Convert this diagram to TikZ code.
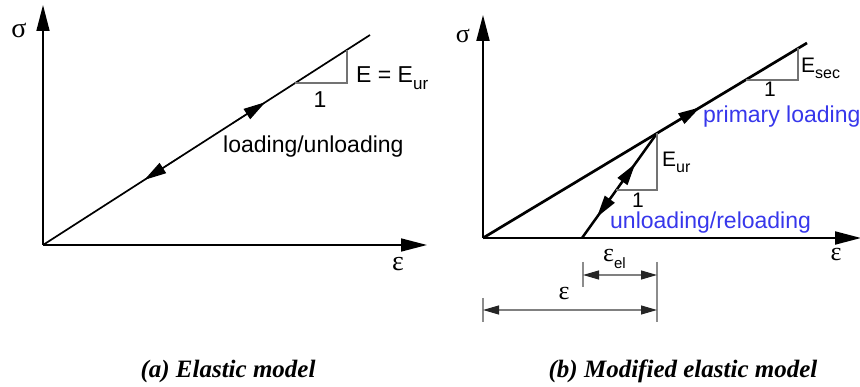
\documentclass[tikz,border=0pt]{standalone}
\usepackage{fontspec}
\setmainfont{Liberation Serif}
\setsansfont{Liberation Sans}
\newfontfamily\grk{Liberation Serif}
\usetikzlibrary{arrows.meta,calc}
\definecolor{lblblue}{RGB}{55,55,235}
\tikzset{
  axisline/.style={line width=1.6pt,-{Triangle[length=26pt,width=13pt]}},
  curveA/.style={line width=1.7pt},
  curveB/.style={line width=2.7pt},
  midarrow/.style={line width=1.2pt,-{Triangle[length=22pt,width=12pt]}},
  slopetri/.style={draw=black!55,line width=1.1pt},
  dimline/.style={draw=black!50,line width=1.1pt,{Triangle[length=16pt,width=9pt,color=black!85]}-{Triangle[length=16pt,width=9pt,color=black!85]}},
  dimtick/.style={draw=black!45,line width=1.2pt},
  greeklbl/.style={font=\grk\fontsize{28}{28}\selectfont,inner sep=0pt},
  sanslbl/.style={font=\sffamily\fontsize{23}{26}\selectfont,inner sep=0pt},
  sanslblB/.style={font=\sffamily\fontsize{21}{24}\selectfont,inner sep=0pt},
  bluelbl/.style={font=\sffamily\fontsize{23}{26}\selectfont,text=lblblue,inner sep=0pt},
  caption/.style={font=\bfseries\itshape\fontsize{25}{30}\selectfont,inner sep=0pt}
}
\begin{document}
\begin{tikzpicture}[x=1pt,y=-1pt]
\useasboundingbox (0,0) rectangle (860,387);
% ---------------- panel (a) ----------------
\coordinate (Oa) at (43,245);
\coordinate (Ya) at (43,5);
\coordinate (Xa) at (427,245);
\coordinate (Pa) at (370,35);
\draw[axisline] (Oa) -- (Ya);
\draw[axisline] (Oa) -- (Xa);
\draw[curveA] (Oa) -- (Pa);
\draw[midarrow] ($(Oa)!0.58!(Pa)$) -- ($(Oa)!0.68!(Pa)$);
\draw[midarrow] ($(Oa)!0.42!(Pa)$) -- ($(Oa)!0.31!(Pa)$);
\coordinate (Ta1) at (295,83);
\coordinate (Ta2) at (347,83);
\coordinate (Ta3) at (347,50);
\draw[slopetri] (Ta1) -- (Ta2) -- (Ta3);
\node[sanslbl] (oneA) at (320,100) {1};
\node[sanslbl,anchor=west] (EA) at (356,78) {E = E\raisebox{-0.28em}{\fontsize{17}{17}\selectfont ur}};
\node[sanslbl,anchor=west] (loadA) at (223,147) {loading/unloading};
\node[greeklbl] (sigA) at (19,30) {σ};
\node[greeklbl] (epsA) at (398,264) {ε};
\node[caption] (capA) at (228,371) {(a) Elastic model};
% ---------------- panel (b) ----------------
\coordinate (Ob) at (483,238);
\coordinate (Yb) at (483,15);
\coordinate (Xb) at (861,238);
\coordinate (Pb) at (807,43);
\coordinate (Ab) at (582,238);
\coordinate (Bb) at ($(Ob)!0.537!(Pb)$);
\draw[axisline,line width=2pt] (Ob) -- (Yb);
\draw[axisline,line width=2pt] (Ob) -- (Xb);
\draw[curveB] (Ob) -- (Pb);
\draw[midarrow,line width=1.5pt] ($(Ob)!0.58!(Pb)$) -- ($(Ob)!0.67!(Pb)$);
\draw[curveB,line width=2.5pt] (Ab) -- (Bb);
\draw[midarrow,line width=1.5pt] ($(Ab)!0.50!(Bb)$) -- ($(Ab)!0.71!(Bb)$);
\draw[midarrow,line width=1.5pt] ($(Ab)!0.42!(Bb)$) -- ($(Ab)!0.20!(Bb)$);
% slope triangles
\coordinate (Tb1) at (746,80);
\coordinate (Tb2) at (798,80);
\coordinate (Tb3) at (798,48.4);
\draw[slopetri] (Tb1) -- (Tb2) -- (Tb3);
\coordinate (Tc1) at (616,190);
\coordinate (Tc2) at ($(Bb|-Tc1)$);
\draw[slopetri] (Tc1) -- (Tc2) -- (Bb);
\node[sanslblB,anchor=west] (Esec) at (801,68) {E\raisebox{-0.28em}{\fontsize{16}{16}\selectfont sec}};
\node[sanslblB] (oneB) at (770,89) {1};
\node[sanslblB,anchor=west] (Eur) at (662,162) {E\raisebox{-0.28em}{\fontsize{16}{16}\selectfont ur}};
\node[sanslblB] (oneC) at (638,200) {1};
\node[bluelbl,anchor=west] (prim) at (703,117) {primary loading};
\node[bluelbl,anchor=west] (unrel) at (610,223) {unloading/reloading};
\node[greeklbl,font=\grk\fontsize{26}{26}\selectfont] (sigB) at (463,36) {σ};
\node[greeklbl,font=\grk\fontsize{26}{26}\selectfont] (epsB) at (836,255) {ε};
% dimension lines
\coordinate (d1a) at (583,262); \coordinate (d1b) at (583,287);
\coordinate (d2a) at (657,262); \coordinate (d2b) at (657,322);
\coordinate (d3a) at (483,298); \coordinate (d3b) at (483,322);
\draw[dimtick] (d1a) -- (d1b);
\draw[dimtick] (d2a) -- (d2b);
\draw[dimtick] (d3a) -- (d3b);
\coordinate (e1l) at (583,275); \coordinate (e1r) at (657,275);
\coordinate (e2l) at (483,310); \coordinate (e2r) at (657,310);
\draw[dimline] (e1l) -- (e1r);
\draw[dimline] (e2l) -- (e2r);
\node[greeklbl,font=\grk\fontsize{26}{26}\selectfont,anchor=west] (epsel) at (603,259) {ε\raisebox{-0.3em}{\sffamily\fontsize{15}{15}\selectfont el}};
\node[greeklbl,font=\grk\fontsize{26}{26}\selectfont] (epstot) at (564,294) {ε};
\node[caption] (capB) at (683,371) {(b) Modified elastic model};
\end{tikzpicture}
\end{document}
